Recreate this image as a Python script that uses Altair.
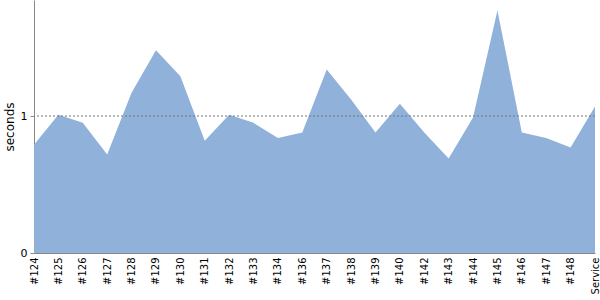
import altair as alt
import pandas as pd

builds = ["#124", "#125", "#126", "#127", "#128", "#129", "#130", "#131", "#132", "#133",
          "#134", "#136", "#137", "#138", "#139", "#140", "#142", "#143", "#144", "#145",
          "#146", "#147", "#148", "Service"]
seconds = [0.79, 1.01, 0.95, 0.72, 1.17, 1.48, 1.29, 0.82, 1.01, 0.95,
           0.84, 0.88, 1.34, 1.12, 0.88, 1.09, 0.88, 0.69, 0.99, 1.77,
           0.88, 0.84, 0.77, 1.07]
reference_value = [1]

df = pd.DataFrame({"build": builds, "seconds": seconds})
ref = pd.DataFrame({"y": reference_value})

xenc = alt.X("build:N", sort=builds, scale=alt.Scale(type="point", padding=0),
             axis=alt.Axis(title=None, labelAngle=-90, ticks=False, labelPadding=4,
                           labelFont="DejaVu Sans", labelFontSize=10, labelColor="#000",
                           domainColor="#888", grid=False, labelAlign="right",
                           labelBaseline="middle"))

area = alt.Chart(df).mark_area(color="#8fb1da", opacity=1, interpolate="linear").encode(
    x=xenc,
    y=alt.Y("seconds:Q", scale=alt.Scale(domain=[0, 1.847], nice=False, zero=True),
            axis=alt.Axis(title="seconds", values=[0, 1], format="d", grid=False, tickSize=4,
                          tickColor="#888", domainColor="#888", labelFont="DejaVu Sans",
                          labelFontSize=11, labelColor="#000", titleFont="DejaVu Sans",
                          titleFontSize=12, titleFontWeight="normal", titleColor="#000",
                          titlePadding=4, labelPadding=3)),
)

rule = alt.Chart(ref).mark_rule(color="#777", strokeDash=[2, 2], strokeWidth=1).encode(
    y="y:Q"
)

chart = (area + rule).properties(
    width=561, height=253,
    autosize=alt.AutoSizeParams(type="none"),
    padding={"left": 34, "top": 0, "right": 5, "bottom": 47},
).configure_view(stroke=None)

chart.save("out.html", embed_options={"renderer": "svg", "actions": False})
